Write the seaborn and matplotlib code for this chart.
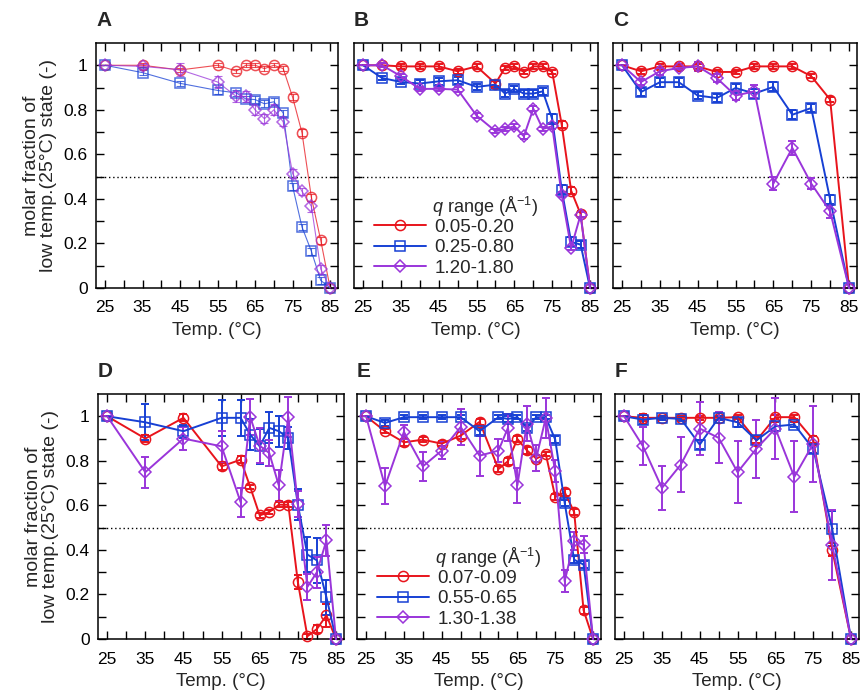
import numpy as np
import pandas as pd
import seaborn as sns
import matplotlib.pyplot as plt

# temperature grids used by the panels
t_a = [25, 35, 45, 55, 60, 62.5, 65, 67.5, 70, 72.5, 75, 77.5, 80, 82.5, 85]
t_b = [25, 30, 35, 40, 45, 50, 55, 60, 62.5, 65, 67.5, 70, 72.5, 75, 77.5, 80, 82.5, 85]
t_c = [25, 30, 35, 40, 45, 50, 55, 60, 65, 70, 75, 80, 85]

# panel A
a_red = [1.0, 1.0, 0.979, 1.0, 0.974, 1.0, 1.0, 0.985, 1.0, 0.985, 0.857, 0.697, 0.407, 0.214, 0.0]
a_red_err = [0, 0.01, 0.01, 0.01, 0.01, 0.01, 0.01, 0.01, 0.01, 0.01, 0.015, 0.015, 0.015, 0.015, 0]
a_blue = [1.0, 0.967, 0.919, 0.887, 0.876, 0.849, 0.846, 0.827, 0.836, 0.786, 0.457, 0.274, 0.165, 0.034, 0.0]
a_blue_err = [0, 0.01, 0.01, 0.015, 0.015, 0.015, 0.015, 0.015, 0.015, 0.015, 0.015, 0.015, 0.015, 0.015, 0]
a_purp = [1.0, 0.995, 0.98, 0.925, 0.86, 0.86, 0.80, 0.76, 0.80, 0.746, 0.514, 0.434, 0.367, 0.085, 0.0]
a_purp_err = [0, 0.01, 0.03, 0.025, 0.025, 0.025, 0.025, 0.02, 0.025, 0.02, 0.02, 0.015, 0.025, 0.02, 0]

# panel B
b_red = [1.0, 1.0, 0.995, 0.995, 0.995, 0.973, 0.995, 0.918, 0.988, 0.995, 0.97, 0.995, 0.995, 0.97, 0.734, 0.437, 0.332, 0.0]
b_red_err = [0, 0.01, 0.01, 0.01, 0.01, 0.01, 0.01, 0.01, 0.01, 0.01, 0.01, 0.01, 0.01, 0.01, 0.015, 0.015, 0.015, 0]
b_blue = [1.0, 0.943, 0.925, 0.918, 0.928, 0.933, 0.903, 0.913, 0.873, 0.894, 0.873, 0.873, 0.883, 0.759, 0.442, 0.207, 0.195, 0.0]
b_blue_err = [0, 0.01, 0.01, 0.015, 0.015, 0.015, 0.015, 0.015, 0.015, 0.015, 0.015, 0.015, 0.015, 0.02, 0.02, 0.02, 0.015, 0]
b_purp = [1.0, 1.0, 0.951, 0.894, 0.894, 0.891, 0.774, 0.704, 0.714, 0.726, 0.681, 0.805, 0.714, 0.726, 0.419, 0.18, 0.329, 0.0]
b_purp_err = [0, 0.01, 0.01, 0.01, 0.01, 0.01, 0.01, 0.01, 0.01, 0.01, 0.01, 0.01, 0.01, 0.01, 0.01, 0.01, 0.01, 0]

# panel C
c_red = [1.0, 0.973, 0.995, 0.995, 0.995, 0.97, 0.97, 0.995, 0.995, 0.995, 0.951, 0.846, 0.0]
c_red_err = [0, 0.01, 0.01, 0.01, 0.01, 0.01, 0.01, 0.01, 0.01, 0.01, 0.01, 0.01, 0]
c_blue = [1.0, 0.88, 0.924, 0.924, 0.864, 0.853, 0.898, 0.873, 0.903, 0.778, 0.808, 0.397, 0.0]
c_blue_err = [0, 0.02, 0.02, 0.02, 0.015, 0.02, 0.02, 0.02, 0.02, 0.02, 0.02, 0.02, 0]
c_purp = [1.0, 0.925, 0.973, 0.988, 0.995, 0.943, 0.864, 0.883, 0.469, 0.629, 0.469, 0.344, 0.0]
c_purp_err = [0, 0.015, 0.015, 0.01, 0.02, 0.02, 0.02, 0.03, 0.03, 0.03, 0.025, 0.03, 0]

# panel D
d_red = [1.0, 0.9, 0.993, 0.775, 0.805, 0.683, 0.555, 0.57, 0.603, 0.603, 0.256, 0.012, 0.045, 0.106, 0.0]
d_red_err = [0, 0.015, 0.015, 0.015, 0.015, 0.01, 0.01, 0.01, 0.01, 0.01, 0.03, 0.01, 0.02, 0.05, 0]
d_blue = [1.0, 0.973, 0.933, 0.993, 0.993, 0.918, 0.865, 0.948, 0.933, 0.903, 0.603, 0.379, 0.353, 0.187, 0.0]
d_blue_err = [0, 0.08, 0.03, 0.08, 0.08, 0.07, 0.08, 0.07, 0.07, 0.05, 0.07, 0.08, 0.1, 0.08, 0]
d_purp = [1.0, 0.749, 0.9, 0.865, 0.614, 0.997, 0.868, 0.835, 0.69, 0.997, 0.606, 0.234, 0.3, 0.443, 0.0]
d_purp_err = [0, 0.07, 0.05, 0.07, 0.065, 0.08, 0.08, 0.06, 0.07, 0.09, 0.06, 0.06, 0.07, 0.07, 0]

# panel E
e_red = [1.0, 0.933, 0.883, 0.895, 0.877, 0.913, 0.975, 0.763, 0.798, 0.898, 0.847, 0.81, 0.831, 0.638, 0.659, 0.57, 0.129, 0.0]
e_red_err = [0, 0.01, 0.015, 0.01, 0.01, 0.015, 0.015, 0.015, 0.015, 0.015, 0.015, 0.015, 0.01, 0.015, 0.015, 0.015, 0.015, 0]
e_blue = [1.0, 0.97, 0.996, 0.996, 0.996, 0.996, 0.933, 0.996, 0.988, 0.996, 0.948, 0.996, 0.996, 0.895, 0.611, 0.356, 0.334, 0.0]
e_blue_err = [0, 0.015, 0.01, 0.01, 0.01, 0.01, 0.015, 0.01, 0.015, 0.01, 0.015, 0.01, 0.01, 0.015, 0.015, 0.015, 0.015, 0]
e_purp = [1.0, 0.686, 0.93, 0.775, 0.846, 0.952, 0.823, 0.846, 0.948, 0.69, 0.967, 0.813, 0.993, 0.753, 0.259, 0.439, 0.424, 0.0]
e_purp_err = [0, 0.08, 0.03, 0.065, 0.04, 0.08, 0.09, 0.05, 0.06, 0.08, 0.08, 0.06, 0.09, 0.05, 0.05, 0.04, 0.04, 0]

# panel F
f_red = [1.0, 0.993, 0.993, 0.993, 0.993, 0.993, 0.996, 0.891, 0.996, 0.996, 0.895, 0.401, 0.0]
f_red_err = [0, 0.015, 0.01, 0.01, 0.01, 0.01, 0.01, 0.01, 0.01, 0.01, 0.015, 0.03, 0]
f_blue = [1.0, 0.985, 0.993, 0.988, 0.873, 0.993, 0.973, 0.892, 0.955, 0.963, 0.853, 0.496, 0.0]
f_blue_err = [0, 0.02, 0.01, 0.01, 0.02, 0.01, 0.02, 0.02, 0.02, 0.01, 0.02, 0.08, 0]
f_purp = [1.0, 0.865, 0.678, 0.783, 0.945, 0.903, 0.749, 0.855, 0.945, 0.728, 0.877, 0.424, 0.0]
f_purp_err = [0, 0.085, 0.1, 0.125, 0.12, 0.115, 0.14, 0.13, 0.137, 0.16, 0.17, 0.157, 0]

legend_top = ["0.05-0.20", "0.25-0.80", "1.20-1.80"]
legend_bottom = ["0.07-0.09", "0.55-0.65", "1.30-1.38"]

sns.set_style("ticks")
plt.rcParams['font.family'] = ['Liberation Sans', 'DejaVu Sans']
plt.rcParams['mathtext.fontset'] = 'custom'
plt.rcParams['mathtext.rm'] = 'Liberation Sans'
plt.rcParams['mathtext.it'] = 'Liberation Sans:italic'

RED = '#e8141c'
BLUE = '#1740d4'
PURP = '#9a35da'
colors = [RED, BLUE, PURP]
markers = ['o', 's', 'D']
msizes = [7.3, 7.3, 6.3]

W, H = 862, 696
fig = plt.figure(figsize=(W / 100, H / 100), dpi=100)

# axes boxes in pixels: left, top, right, bottom
boxes = {
    'A': (96, 43, 338, 288), 'B': (354, 43, 598, 288), 'C': (613, 43, 857, 288),
    'D': (98, 394, 344, 639), 'E': (357, 394, 601, 639), 'F': (615, 394, 859, 639),
}

panels = {
    'A': (t_a, [(a_red, a_red_err), (a_blue, a_blue_err), (a_purp, a_purp_err)]),
    'B': (t_b, [(b_red, b_red_err), (b_blue, b_blue_err), (b_purp, b_purp_err)]),
    'C': (t_c, [(c_red, c_red_err), (c_blue, c_blue_err), (c_purp, c_purp_err)]),
    'D': (t_a, [(d_red, d_red_err), (d_blue, d_blue_err), (d_purp, d_purp_err)]),
    'E': (t_b, [(e_red, e_red_err), (e_blue, e_blue_err), (e_purp, e_purp_err)]),
    'F': (t_c, [(f_red, f_red_err), (f_blue, f_blue_err), (f_purp, f_purp_err)]),
}

xt = np.arange(25, 86, 5)
yt = np.round(np.arange(0, 1.01, 0.1), 1)

for key, (temps, series) in panels.items():
    l, t, r, b = boxes[key]
    ax = fig.add_axes([l / W, 1 - b / H, (r - l) / W, (b - t) / H])
    thin = key == 'A'
    lw = 0.8 if thin else 1.4
    alpha = 0.75 if thin else 1.0
    labels = legend_top if key in 'ABC' else legend_bottom
    for i, (vals, errs) in enumerate(series):
        df = pd.DataFrame({'T': temps, 'f': vals, 'e': errs})
        c = colors[i]
        ax.errorbar(df['T'], df['f'], yerr=df['e'], fmt='none', ecolor=c,
                    elinewidth=lw, capsize=3, capthick=lw, alpha=alpha, zorder=2)
        sns.lineplot(data=df, x='T', y='f', ax=ax, color=c, lw=lw, alpha=alpha,
                     marker=markers[i], markersize=msizes[i], markerfacecolor='none',
                     markeredgecolor=c, markeredgewidth=1.1, label=labels[i],
                     clip_on=False, zorder=3)
    ax.axhline(0.5, color='k', ls=(0, (1, 2)), lw=1, zorder=1)
    ax.set_xlim(22.6, 87.1)
    ax.set_ylim(0, 1.1)
    ax.set_xticks(xt)
    ax.set_xticklabels([str(v) if (v - 25) % 10 == 0 else '' for v in xt])
    ax.set_yticks(yt)
    if key in 'AD':
        ax.set_yticklabels([('1' if v == 1 else ('0' if v == 0 else f'{v:g}')) if round(v * 10) % 2 == 0 else '' for v in yt])
        ax.set_ylabel("molar fraction of\nlow temp.(25\u00b0C) state (-)", fontsize=14,
                      labelpad=5, linespacing=1.0)
    else:
        ax.set_yticklabels([])
        ax.set_ylabel('')
    ax.set_xlabel("Temp. (\u00b0C)", fontsize=13.5, labelpad=5)
    ax.tick_params(direction='in', top=True, right=True, length=6, width=1,
                   labelsize=12.5, colors='k')
    ax.tick_params(axis='x', pad=9)
    ax.tick_params(axis='y', pad=6)
    for s in ax.spines.values():
        s.set_linewidth(1.1)
        s.set_color('k')
    ax.text(0.0, 1.055, key, transform=ax.transAxes, fontsize=15,
            fontweight='bold', ha='left', va='bottom')
    if key in 'BE':
        ax.legend(loc='lower left', bbox_to_anchor=(0.08, 0.045), frameon=False,
                  fontsize=13.5, handlelength=2.8, handletextpad=0.45,
                  labelspacing=0.18, borderaxespad=0.0, borderpad=0.0)
        ax.text(0.535, 0.33, r"$q$ range (Å$^{-1}$)", transform=ax.transAxes,
                fontsize=13, ha='center', va='center')
    else:
        ax.get_legend().remove()

fig.savefig('out.png', dpi=100)
